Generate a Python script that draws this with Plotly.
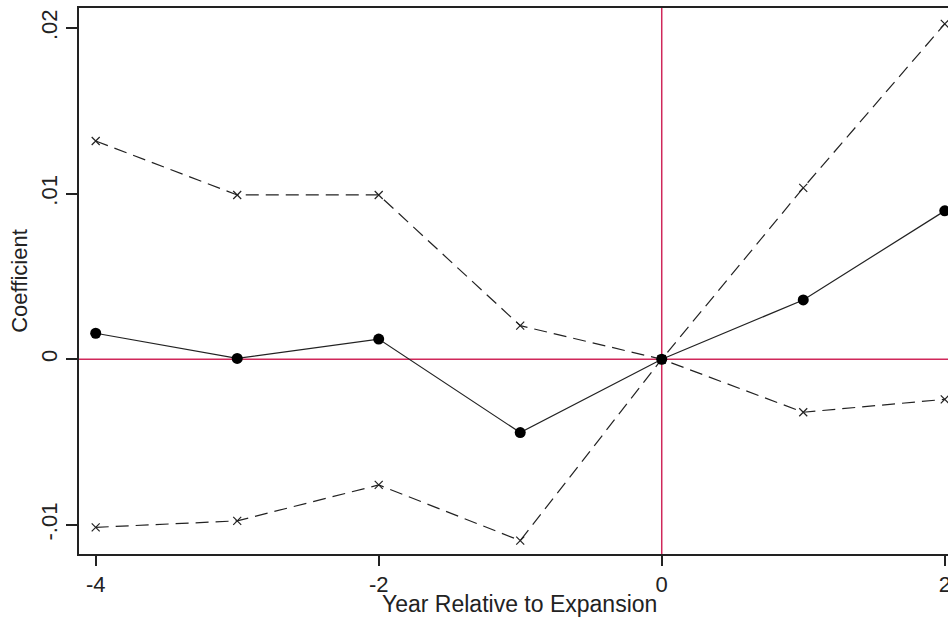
import plotly.graph_objects as go

years = [-4, -3, -2, -1, 0, 1, 2]
coef = [0.00157, 0.00005, 0.00122, -0.00443, 0.0, 0.00358, 0.00896]
upper = [0.01318, 0.00992, 0.00992, 0.00203, 0.0, 0.01035, 0.02025]
lower = [-0.01015, -0.00976, -0.00759, -0.01095, 0.0, -0.0032, -0.00242]

y_ticks = [-0.01, 0, 0.01, 0.02]
y_ticklabels = ["-.01", "0", ".01", ".02"]
x_ticks = [-4, -2, 0, 2]
x_ticklabels = ["-4", "-2", "0", "2"]

RED = "#D0285A"
font = "Liberation Sans, Arial, sans-serif"

fig = go.Figure()
fig.add_hline(y=0, line=dict(color=RED, width=1.5), layer="below")
fig.add_vline(x=0, line=dict(color=RED, width=1.5), layer="below")

for ser in (upper, lower):
    fig.add_trace(go.Scatter(
        x=years, y=ser, mode="lines+markers", cliponaxis=False,
        line=dict(color="#222", width=1.2, dash="13px,7px"),
        marker=dict(symbol="x-thin", size=8, line=dict(color="#222", width=1.2)),
        showlegend=False, hoverinfo="skip"))

fig.add_trace(go.Scatter(
    x=years, y=coef, mode="lines+markers", cliponaxis=False,
    line=dict(color="#222", width=1.2),
    marker=dict(symbol="circle", size=11, color="black"),
    showlegend=False))

fig.add_annotation(text="Year Relative to Expansion", xref="paper", yref="paper",
                   x=(519 - 79) / 869, y=-(604 - 554) / 546, xanchor="center",
                   yanchor="middle", showarrow=False,
                   font=dict(size=23, family=font, color="#222"))

fig.update_layout(
    width=948, height=617,
    margin=dict(l=79, r=0, t=8, b=63),
    paper_bgcolor="white", plot_bgcolor="white",
    font=dict(family=font, color="#222", size=22),
    xaxis=dict(range=[-4.118, 2.023], tickvals=x_ticks, ticktext=x_ticklabels,
               ticks="outside", automargin=False, ticklabeloverflow="allow",
               ticklen=10, tickwidth=1.5, tickcolor="#222",
               showline=True, linecolor="#222", linewidth=2, mirror=True,
               showgrid=False, zeroline=False,
               tickfont=dict(size=22)),
    yaxis=dict(range=[-0.01176, 0.02121], tickvals=y_ticks, ticktext=y_ticklabels,
               ticks="outside", automargin=False,
               ticklen=11, tickwidth=1.5, tickcolor="#222",
               showline=True, linecolor="#222", linewidth=2,
               showgrid=False, zeroline=False, tickangle=-90,
               tickfont=dict(size=22),
               title=dict(text="Coefficient", standoff=4, font=dict(size=22))),
)

post = ("document.body.style.margin='0';document.body.style.padding='0';"
        "document.body.style.overflow='hidden';"
        "document.documentElement.style.overflow='hidden';")
fig.write_html("out.html", post_script=post,
               config={"responsive": False, "displayModeBar": False})
